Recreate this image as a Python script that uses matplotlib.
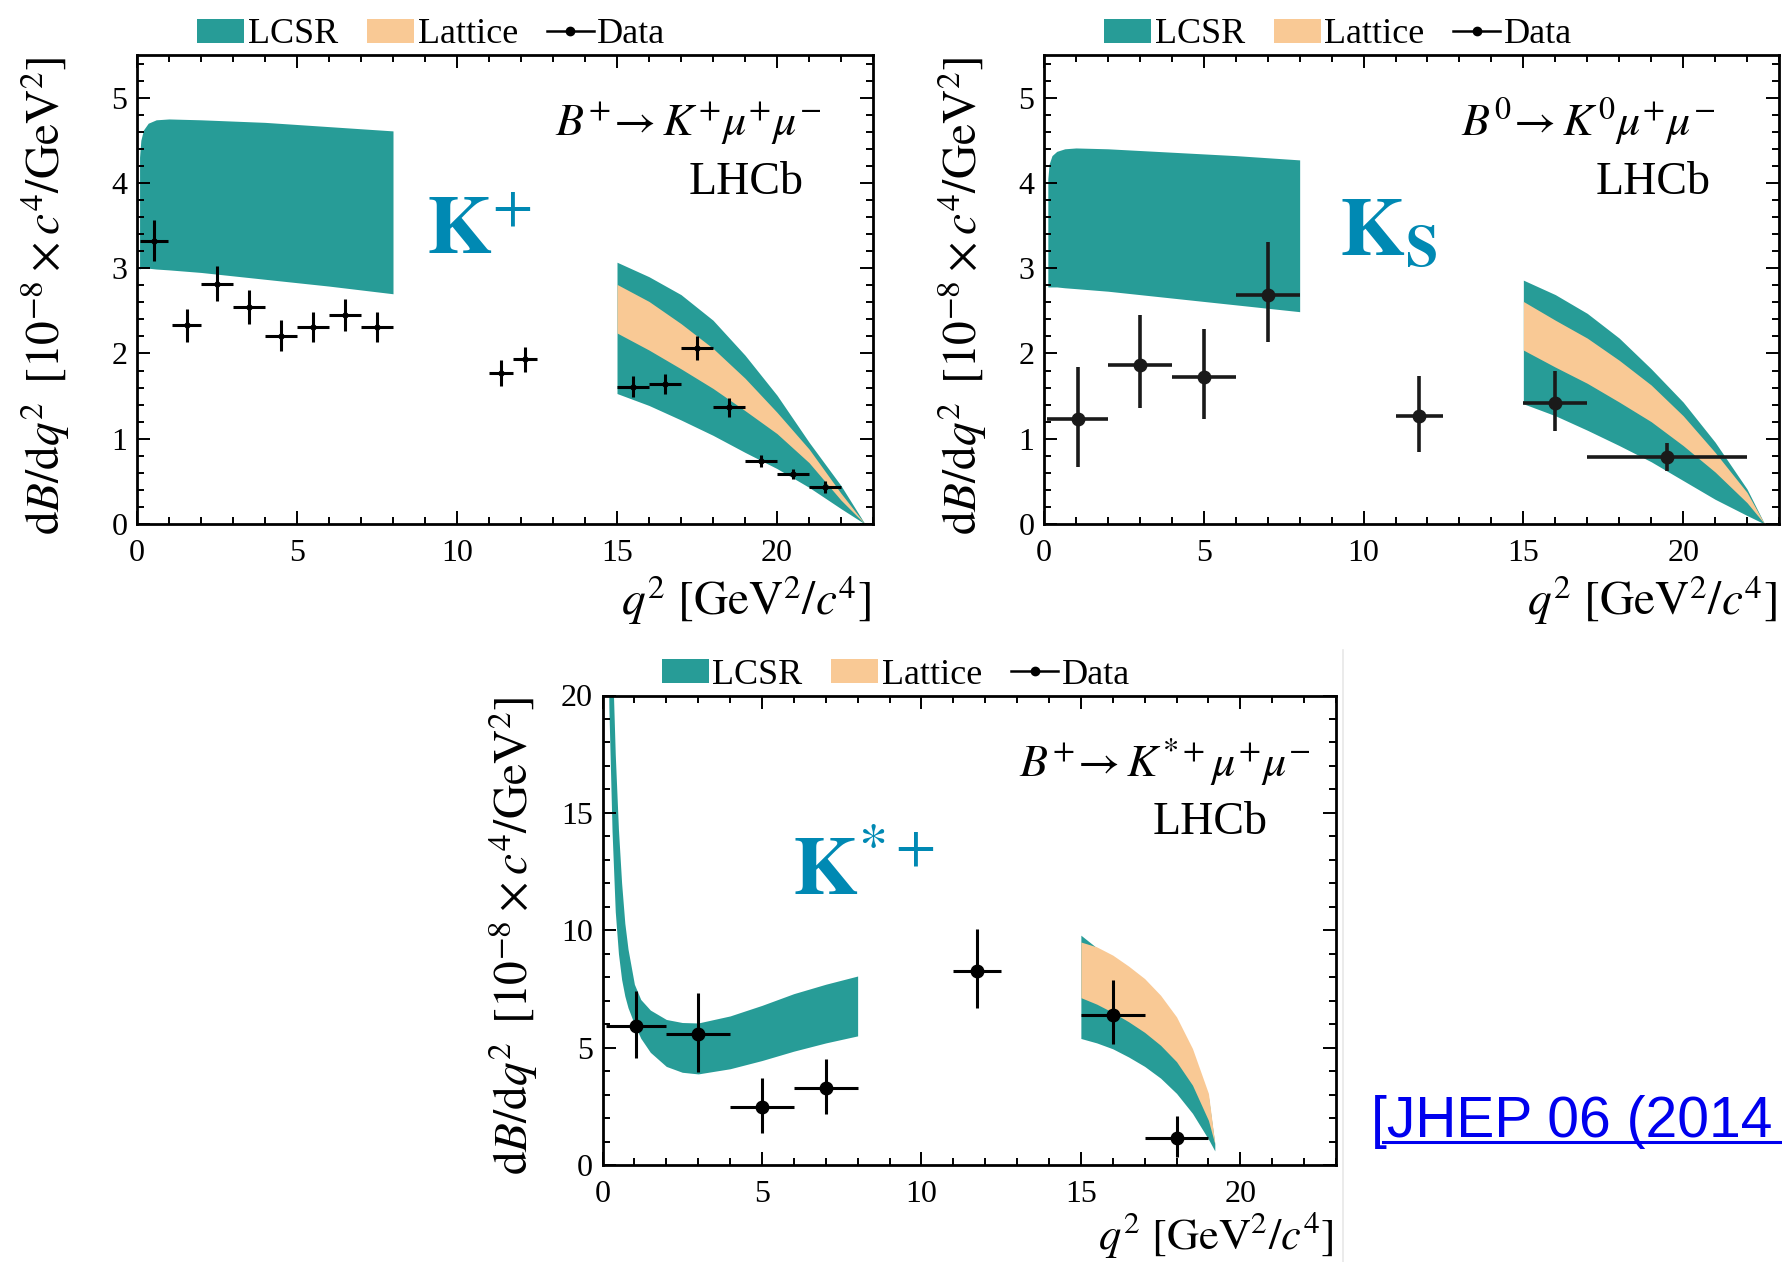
import matplotlib.pyplot as plt
from matplotlib.patches import Patch
from matplotlib.lines import Line2D
from matplotlib.ticker import MultipleLocator

plt.rcParams['font.family'] = ['Liberation Serif', 'DejaVu Serif']
plt.rcParams['mathtext.fontset'] = 'stix'

TEAL = '#279c97'
PEACH = '#f9c995'
KBLUE = '#0089b3'
W, H = 1782, 1262

# ---- B+ -> K+ mu+ mu- ----
kp_lo = [0.1, 1.1, 2, 3, 4, 5, 6, 7, 11, 11.75, 15, 16, 17, 18, 19, 20, 21]
kp_hi = [0.98, 2, 3, 4, 5, 6, 7, 8, 11.75, 12.5, 16, 17, 18, 19, 20, 21, 22]
kp_y = [3.32, 2.33, 2.82, 2.54, 2.21, 2.31, 2.45, 2.31, 1.77, 1.93,
        1.61, 1.64, 2.06, 1.37, 0.74, 0.59, 0.43]
kp_err = [0.24, 0.19, 0.21, 0.20, 0.18, 0.18, 0.19, 0.18, 0.15, 0.15,
          0.12, 0.12, 0.14, 0.11, 0.07, 0.06, 0.07]

kp_low_x = [0.08, 0.12, 0.2, 0.35, 0.6, 1, 2, 4, 6, 8]
kp_low_up = [4.3, 4.5, 4.62, 4.7, 4.74, 4.75, 4.74, 4.71, 4.66, 4.61]
kp_low_dn = [2.99, 3.0, 3.0, 3.0, 2.99, 2.98, 2.95, 2.87, 2.79, 2.70]

kp_high_x = [15, 16, 17, 18, 19, 20, 21, 22, 22.75]
kp_lcsr_up = [3.07, 2.90, 2.69, 2.39, 1.98, 1.51, 0.96, 0.45, 0.0]
kp_latt_up = [2.81, 2.61, 2.35, 2.06, 1.71, 1.31, 0.88, 0.36, 0.0]
kp_latt_dn = [2.24, 2.04, 1.82, 1.59, 1.33, 1.06, 0.72, 0.28, 0.0]
kp_lcsr_dn = [1.53, 1.39, 1.22, 1.04, 0.84, 0.65, 0.43, 0.18, 0.0]

# ---- B0 -> K0 mu+ mu- ----
k0_lo = [0.1, 2, 4, 6, 11, 15, 17]
k0_hi = [2, 4, 6, 8, 12.5, 17, 22]
k0_y = [1.23, 1.87, 1.72, 2.69, 1.27, 1.42, 0.78]
k0_eup = [0.61, 0.58, 0.57, 0.62, 0.46, 0.38, 0.17]
k0_edn = [0.56, 0.51, 0.49, 0.55, 0.43, 0.33, 0.16]

k0_low_x = [0.12, 0.16, 0.25, 0.4, 0.65, 1, 2, 4, 6, 8]
k0_low_up = [4.05, 4.22, 4.32, 4.37, 4.40, 4.41, 4.40, 4.36, 4.32, 4.27]
k0_low_dn = [2.78, 2.78, 2.78, 2.78, 2.77, 2.76, 2.73, 2.65, 2.57, 2.49]

k0_high_x = [15, 16, 17, 18, 19, 20, 21, 22, 22.55]
k0_lcsr_up = [2.86, 2.69, 2.47, 2.18, 1.82, 1.43, 0.96, 0.41, 0.0]
k0_latt_up = [2.61, 2.39, 2.18, 1.92, 1.63, 1.27, 0.84, 0.37, 0.0]
k0_latt_dn = [2.04, 1.84, 1.65, 1.43, 1.20, 0.92, 0.61, 0.25, 0.0]
k0_lcsr_dn = [1.41, 1.27, 1.10, 0.92, 0.73, 0.51, 0.29, 0.10, 0.0]

# ---- B+ -> K*+ mu+ mu- ----
ks_lo = [0.1, 2, 4, 6, 11, 15, 17]
ks_hi = [2, 4, 6, 8, 12.5, 17, 19]
ks_y = [5.91, 5.57, 2.45, 3.29, 8.27, 6.41, 1.13]
ks_eup = [1.52, 1.77, 1.26, 1.22, 1.77, 1.47, 0.96]
ks_edn = [1.35, 1.60, 1.10, 1.10, 1.57, 1.26, 0.78]

ks_low_x = [0.15, 0.2, 0.3, 0.4, 0.5, 0.6, 0.7, 0.8, 1.0, 1.2, 1.5,
            2.0, 2.5, 3.0, 4.0, 5.0, 6.0, 7.0, 8.0]
ks_low_up = [40, 32, 22, 17.5, 14.3, 12.0, 10.3, 9.2, 7.7, 7.05, 6.6,
             6.2, 6.07, 6.05, 6.35, 6.8, 7.3, 7.7, 8.05]
ks_low_dn = [26, 19.5, 14.2, 10.8, 9.0, 7.9, 7.2, 6.7, 6.0, 5.4, 4.8,
             4.2, 3.95, 3.88, 4.1, 4.45, 4.85, 5.2, 5.5]

ks_high_x = [15, 15.5, 16, 16.5, 17, 17.5, 18, 18.5, 19, 19.2]
ks_lcsr_up = [9.79, 9.25, 8.75, 8.2, 7.6, 6.9, 6.0, 4.7, 2.9, 0.9]
ks_latt_up = [9.50, 9.29, 8.94, 8.47, 7.94, 7.23, 6.31, 4.96, 3.05, 0.92]
ks_latt_dn = [7.13, 6.85, 6.5, 6.1, 5.65, 5.1, 4.4, 3.4, 1.9, 0.9]
ks_lcsr_dn = [5.39, 5.2, 4.95, 4.6, 4.2, 3.7, 3.05, 2.2, 1.1, 0.6]

fig = plt.figure(figsize=(W / 100, H / 100), dpi=100)


def setup(ax, ymax, ymajor, yminor):
    ax.set_xlim(0, 23)
    ax.set_ylim(0, ymax)
    ax.xaxis.set_major_locator(MultipleLocator(5))
    ax.xaxis.set_minor_locator(MultipleLocator(1))
    ax.yaxis.set_major_locator(MultipleLocator(ymajor))
    ax.yaxis.set_minor_locator(MultipleLocator(yminor))
    ax.tick_params(which='both', direction='in', top=True, right=True, width=1.4)
    ax.tick_params(which='major', length=9.5, labelsize=23)
    ax.tick_params(which='minor', length=5)
    ax.tick_params(axis='x', pad=11)
    ax.tick_params(axis='y', pad=7)
    for s in ax.spines.values():
        s.set_linewidth(2.0)
    handles = [Patch(facecolor=TEAL, edgecolor='none'),
               Patch(facecolor=PEACH, edgecolor='none'),
               Line2D([], [], color='k', marker='o', ms=6, lw=1.8)]
    ax.legend(handles, ['LCSR', 'Lattice', 'Data'], loc='center',
              bbox_to_anchor=(0.40, 1.043), ncol=3, frameon=False, fontsize=26,
              handlelength=1.3, handleheight=0.65, handletextpad=0.1,
              columnspacing=0.8, borderaxespad=0, borderpad=0)


def bands(ax, xl, ul, dl, xh, lu, lau, lad, ld):
    ax.fill_between(xl, dl, ul, color=TEAL, lw=0, zorder=1)
    ax.fill_between(xh, ld, lu, color=TEAL, lw=0, zorder=1)
    ax.fill_between(xh, lad, lau, color=PEACH, lw=0, zorder=2)


def data(ax, lo, hi, y, edn, eup, ms, lw, color='k'):
    x = [(a + b) / 2 for a, b in zip(lo, hi)]
    xerr = [[c - a for a, c in zip(lo, x)], [b - c for b, c in zip(hi, x)]]
    ax.errorbar(x, y, xerr=xerr, yerr=[edn, eup], fmt='o', color=color,
                ms=ms, elinewidth=lw, capsize=0, zorder=5)


def labels(ax, decay, kname, kx):
    ax.text(0.568, 0.827, decay, transform=ax.transAxes, fontsize=33,
            ha='left', va='baseline')
    ax.text(0.75, 0.704, 'LHCb', transform=ax.transAxes, fontsize=33,
            ha='left', va='baseline')
    ax.text(kx, 0.574, kname, transform=ax.transAxes, fontsize=60,
            color=KBLUE, ha='left', va='baseline')


ylab = r'$\mathrm{d}B/\mathrm{d}q^{2}\ \,[10^{-8}\times c^{4}/\mathrm{GeV}^{2}]$'
xlab = r'$q^{2}\ [\mathrm{GeV}^{2}/c^{4}]$'

# top left
ax1 = fig.add_axes([137 / W, 1 - 524 / H, 736 / W, 469 / H])
setup(ax1, 5.5, 1, 0.2)
bands(ax1, kp_low_x, kp_low_up, kp_low_dn, kp_high_x,
      kp_lcsr_up, kp_latt_up, kp_latt_dn, kp_lcsr_dn)
data(ax1, kp_lo, kp_hi, kp_y, kp_err, kp_err, 3.5, 2.2)
labels(ax1, r'$B^{+}\!\rightarrow K^{+}\mu^{+}\mu^{-}$',
       r'$\mathbf{K}^{+}$', 0.393)

# top right
ax2 = fig.add_axes([1044 / W, 1 - 524 / H, 735 / W, 469 / H])
setup(ax2, 5.5, 1, 0.2)
bands(ax2, k0_low_x, k0_low_up, k0_low_dn, k0_high_x,
      k0_lcsr_up, k0_latt_up, k0_latt_dn, k0_lcsr_dn)
data(ax2, k0_lo, k0_hi, k0_y, k0_edn, k0_eup, 9, 2.6, color='#1a1a1a')
labels(ax2, r'$B^{\mathit{0}}\!\rightarrow K^{\mathit{0}}\mu^{+}\mu^{-}$',
       r'$\mathbf{K}_{\mathbf{S}}$', 0.401)

# bottom
ax3 = fig.add_axes([602.5 / W, 1 - 1165 / H, 733.5 / W, 469.5 / H])
setup(ax3, 20, 5, 1)
bands(ax3, ks_low_x, ks_low_up, ks_low_dn, ks_high_x,
      ks_lcsr_up, ks_latt_up, ks_latt_dn, ks_lcsr_dn)
data(ax3, ks_lo, ks_hi, ks_y, ks_edn, ks_eup, 9, 2.2)
labels(ax3, r'$B^{+}\!\rightarrow K^{*+}\mu^{+}\mu^{-}$',
       r'$\mathbf{K}^{*+}$', 0.258)

# axis titles, ROOT style: y title flush with the top, x title flush right
for xc, ytop in [(45, 57), (962, 57), (513, 697)]:
    fig.text(xc / W, 1 - ytop / H, ylab, rotation=90, fontsize=34,
             ha='center', va='top')
for xr, yc, fs in [(871, 600, 34), (1777, 600, 34), (1334, 1235, 32)]:
    fig.text(xr / W, 1 - yc / H, xlab, fontsize=fs, ha='right', va='center')

# reference link
fig.text(1371 / W, 1 - 1137 / H, '[JHEP 06 (2014', color='#0000ee',
         fontsize=41, family='Liberation Sans', ha='left', va='baseline')
fig.add_artist(Line2D([1383 / W, 1.0], [1 - 1142 / H] * 2,
                      color='#0000ee', lw=2.2))
fig.add_artist(Line2D([1343 / W] * 2, [0, 1 - 650 / H],
                      color='#e8e8e8', lw=1.2))

fig.savefig('out.png', dpi=100)
